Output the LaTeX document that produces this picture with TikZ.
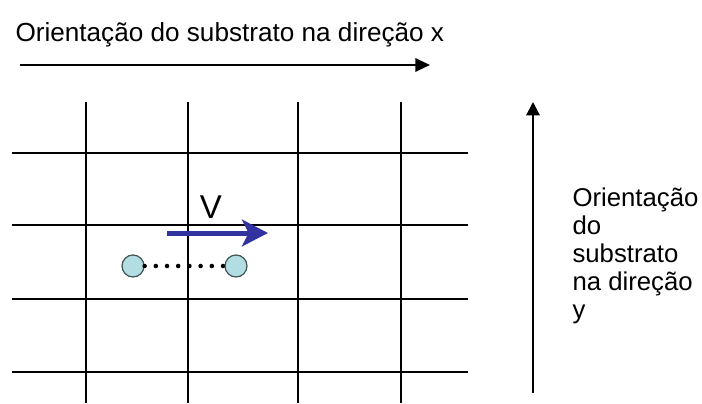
\documentclass[tikz,border=0pt]{standalone}
\usepackage{fontspec}
\setmainfont{Liberation Sans}
\usetikzlibrary{arrows.meta}
\definecolor{velblue}{RGB}{50,50,160}
\definecolor{atomfill}{RGB}{178,221,227}
\definecolor{atomline}{RGB}{64,84,84}
\begin{document}
\begin{tikzpicture}[x=0.75pt,y=-0.75pt,line width=0.8pt,
  caption/.style={inner sep=0pt,font=\fontsize{19.3}{21}\selectfont},
  atom/.style={circle,draw=atomline,fill=atomfill,line width=0.9pt,minimum size=16.5pt,inner sep=0pt}]
  \useasboundingbox (0,0) rectangle (702,403);

  % Substrate grid.
  \foreach \x in {86,188,298,401}
    \draw (\x,102) -- (\x,403);
  \foreach \y in {153,225,299,372}
    \draw (12,\y) -- (468,\y);

  % Orientation in x: text and arrow above the grid.
  \node[caption,anchor=base west,font=\fontsize{19.6}{21}\selectfont] (xtext) at (15,41) {Orientação do substrato na direção x};
  \coordinate (xtail) at (20,65);
  \coordinate (xhead) at (430,65);
  \draw[line width=1.5pt,-{Triangle[length=11pt,width=10pt]}] (xtail) -- (xhead);

  % Orientation in y: arrow and text to the right (base is the last line).
  \coordinate (ytail) at (533,393);
  \coordinate (yhead) at (533,102);
  \draw[line width=1.5pt,-{Triangle[length=10pt,width=10pt]}] (ytail) -- (yhead);
  \node[caption,anchor=base west,align=left] (ytext) at (572,318)
    {Orientação\\do\\substrato\\na direção\\y};

  % The dimer and its velocity.
  \node[atom] (atoml) at (133,266) {};
  \node[atom] (atomr) at (236,266) {};
  \draw[line width=3.4pt,line cap=round,dash pattern=on 0pt off 8.4pt] (atoml) -- (atomr);
  \coordinate (vtail) at (167,233);
  \coordinate (vhead) at (268,233);
  \draw[velblue,line width=3.75pt,-{Stealth[length=19.5pt,width=20pt,inset=5pt]}] (vtail) -- (vhead);
  \node[inner sep=0pt,font=\fontsize{24.75}{28}\selectfont] (vtext) at (211,207) {V};
\end{tikzpicture}
\end{document}
